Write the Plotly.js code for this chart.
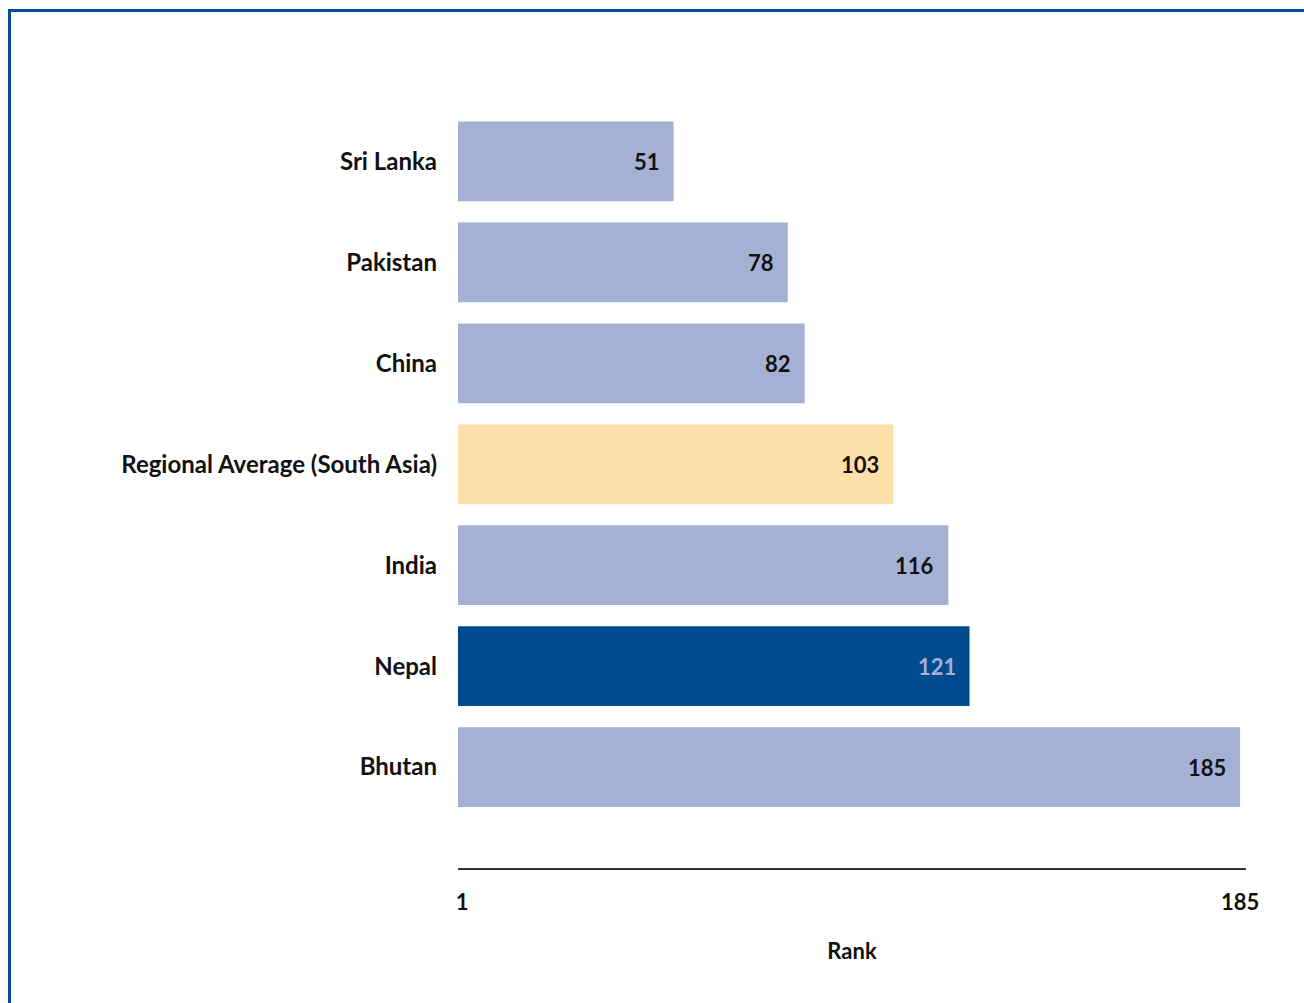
<!DOCTYPE html>
<html>
<head>
<meta charset="utf-8">
<script src="https://cdn.plot.ly/plotly-3.0.1.min.js"></script>
<style>
  html, body { margin: 0; padding: 0; background: #fff; }
  #wrap { position: relative; width: 1304px; height: 1003px; }
  #chart { width: 1304px; height: 1003px; }
  #frame { position: absolute; left: 8px; top: 9px; width: 1296px; height: 994px;
           border-left: 3px solid #0b4c96; border-top: 3px solid #0b4c96; box-sizing: border-box; pointer-events: none; }
</style>
</head>
<body>
<div id="wrap">
  <div id="chart"></div>
  <div id="frame"></div>
</div>
<script>
// Data (top to bottom as shown)
const countries = ["Sri Lanka", "Pakistan", "China", "Regional Average (South Asia)", "India", "Nepal", "Bhutan"];
const ranks = [51, 78, 82, 103, 116, 121, 185];
const barColors = ["#a4b1d4", "#a4b1d4", "#a4b1d4", "#fddfaa", "#a4b1d4", "#004b8d", "#a4b1d4"];
const labelColors = ["#111111", "#111111", "#111111", "#111111", "#111111", "#a4b1d4", "#111111"];
const tickValues = [1, 185];
const tickLabels = ["1", "185"];
const axisTitle = "Rank";

const FONT = "Lato, 'Open Sans', sans-serif";

const trace = {
  type: "bar",
  orientation: "h",
  y: countries,
  x: ranks,
  marker: { color: barColors, line: { width: 0 } },
  width: 0.79,
  hoverinfo: "x+y"
};

const annotations = countries.map((c, i) => ({
  x: ranks[i], y: c, xref: "x", yref: "y",
  text: "<b>" + ranks[i] + "</b>",
  showarrow: false, xanchor: "right", yanchor: "middle", xshift: -12,
  font: { family: FONT, size: 22, color: labelColors[i] }
}));

const layout = {
  width: 1304, height: 1003,
  margin: { l: 458, r: 58, t: 110.5, b: 135, pad: 0 },
  paper_bgcolor: "#ffffff", plot_bgcolor: "#ffffff",
  showlegend: false,
  font: { family: FONT, size: 22, color: "#111111" },
  xaxis: {
    range: [0, 186.4],
    tickvals: tickValues, ticktext: tickLabels.map(t => "<b>" + t + "</b>"),
    showgrid: false, zeroline: false,
    showline: true, linecolor: "#333333", linewidth: 2,
    ticks: "", ticklabelstandoff: 14,
    tickfont: { family: FONT, size: 22, color: "#111111" },
    title: { text: "<b>" + axisTitle + "</b>", standoff: 29, font: { family: FONT, size: 22, color: "#111111" } },
    fixedrange: true
  },
  yaxis: {
    categoryorder: "array", categoryarray: countries.slice().reverse(),
    range: [-1, 6.5],
    showgrid: false, zeroline: false, showline: false,
    ticks: "", ticklabelstandoff: 20,
    tickfont: { family: FONT, size: 24, color: "#111111" },
    tickprefix: "<b>", ticksuffix: "</b>",
    fixedrange: true
  },
  annotations: annotations
};

Plotly.newPlot("chart", [trace], layout, { displayModeBar: false, staticPlot: true });
</script>
</body>
</html>
